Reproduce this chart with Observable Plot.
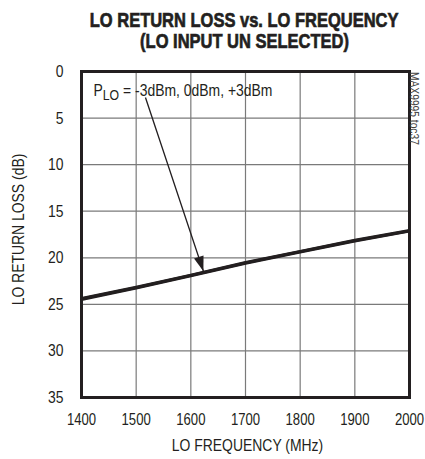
<!DOCTYPE html>
<html>
<head>
<meta charset="utf-8">
<script src="https://cdn.jsdelivr.net/npm/d3@7"></script>
<script src="https://cdn.jsdelivr.net/npm/@observablehq/plot@0.6"></script>
<style>
  body { margin: 0; background: #fff; }
  #title {
    width: 425px; height: 56px; box-sizing: border-box; padding-top: 9px;
    text-align: center; font-family: "Liberation Sans", Arial, sans-serif; white-space: nowrap;
    font-weight: bold; font-size: 21px; line-height: 21px; color: #231f20;
    -webkit-text-stroke: 0.7px #231f20;
  }
  #title span { display: inline-block; transform: translateX(31.5px) scaleX(0.785); transform-origin: 50% 50%; }
  #chart svg { display: block; }
</style>
</head>
<body>
<div id="title"><span>LO RETURN LOSS vs. LO FREQUENCY</span><br><span>(LO INPUT UN SELECTED)</span></div>
<div id="chart"></div>
<script>
// ---- data ----
const freqMHz = [1400, 1500, 1600, 1700, 1800, 1900, 2000];
const rlM3dBm = [24.5, 23.25, 21.95, 20.6, 19.4, 18.2, 17.15];
const rl0dBm  = [24.4, 23.2, 21.9, 20.55, 19.35, 18.15, 17.1];
const rlP3dBm = [24.35, 23.15, 21.85, 20.5, 19.3, 18.1, 17.05];
const seriesNames = ["-3dBm", "0dBm", "+3dBm"];
const xTicks = [1400, 1500, 1600, 1700, 1800, 1900, 2000];
const yTicks = [0, 5, 10, 15, 20, 25, 30, 35];
const xLabel = "LO FREQUENCY (MHz)";
const yLabel = "LO RETURN LOSS (dB)";
const noteText = "PLO = -3dBm, 0dBm, +3dBm";
const sourceText = "MAX9995 toc37";
const arrowX = [1517, 1623];   // MHz
const arrowY = [2.8, 21.45];   // dB

// ---- build table ----
const seriesValues = [rlM3dBm, rl0dBm, rlP3dBm];
const rows = [];
seriesNames.forEach((p, s) => freqMHz.forEach((f, i) => rows.push({p, f, rl: seriesValues[s][i]})));
const arrowRows = [{x1: arrowX[0], y1: arrowY[0], x2: arrowX[1], y2: arrowY[1]}];

const ink = "#231f20";
const headAngle = 162 * Math.PI / 180;
const arrowHead = {
  draw(ctx) {
    const pts = [[0, 0], [-5, 15], [5, 15]].map(([x, y]) => [
      x * Math.cos(headAngle) - y * Math.sin(headAngle),
      x * Math.sin(headAngle) + y * Math.cos(headAngle)
    ]);
    ctx.moveTo(pts[0][0], pts[0][1]);
    ctx.lineTo(pts[1][0], pts[1][1]);
    ctx.lineTo(pts[2][0], pts[2][1]);
    ctx.closePath();
  }
};

const plot = Plot.plot({
  width: 425,
  height: 403,
  marginLeft: 81,
  marginRight: 16,
  marginTop: 15,
  marginBottom: 62,
  style: {
    fontFamily: "'Liberation Sans', Arial, sans-serif",
    fontSize: "17px",
    color: ink,
    background: "white"
  },
  x: {domain: [1400, 2000], ticks: xTicks, tickSize: 0, tickPadding: 16, tickFormat: d3.format("d"), label: null},
  y: {domain: [0, 35], reverse: true, ticks: yTicks, tickSize: 0, tickPadding: 18, label: null},
  marks: [
    Plot.ruleX(xTicks, {stroke: "#7a7a7a", strokeWidth: 1.2}),
    Plot.ruleY(yTicks, {stroke: "#7a7a7a", strokeWidth: 1.2}),
    Plot.line(rows, {x: "f", y: "rl", z: "p", stroke: ink, strokeWidth: 2.8}),
    Plot.link(arrowRows, {x1: "x1", y1: "y1", x2: "x2", y2: "y2", stroke: ink, strokeWidth: 1.3}),
    Plot.dot(arrowRows, {x: "x2", y: "y2", symbol: arrowHead, fill: ink, stroke: "none"}),
    Plot.frame({stroke: ink, strokeWidth: 3}),
    Plot.text([noteText], {text: d => d, frameAnchor: "top-left", textAnchor: "start", lineAnchor: "top", dx: 12, dy: 12, fill: ink}),
    Plot.text([xLabel], {text: d => d, frameAnchor: "bottom", textAnchor: "middle", lineAnchor: "top", dx: 2, dy: 41.5, fill: ink}),
    Plot.text([yLabel], {text: d => d, frameAnchor: "left", textAnchor: "middle", lineAnchor: "middle", rotate: -90, dx: -63, dy: -5, fill: ink}),
    Plot.text([sourceText], {text: d => d, frameAnchor: "top-right", textAnchor: "start", lineAnchor: "middle", rotate: 90, dx: 5, dy: 0.5, fontSize: 12.5, fill: "#444"})
  ]
});

document.getElementById("chart").append(plot);

// x tick labels a touch smaller so "2000" stays inside the page
const xTickStrings = new Set(xTicks.map(String));
d3.select(plot).selectAll("text").filter(function () { return xTickStrings.has(this.textContent); })
  .attr("font-size", 16);

// annotation with subscript "LO"
d3.select(plot).selectAll("text").filter(function () { return this.textContent === noteText; })
  .each(function () {
    const t = d3.select(this);
    t.text(null);
    t.append("tspan").text("P");
    t.append("tspan").attr("font-size", 15).attr("dy", 4).text("LO");
    t.append("tspan").attr("dy", -4).text(" = -3dBm, 0dBm, +3dBm");
  });

// condensed look (narrow face not installed): horizontal scale of each label about its own anchor
d3.select(plot).selectAll("text").each(function () {
  const ax = +(this.getAttribute("x") || 0) || 0;
  const prev = this.getAttribute("transform") || "";
  this.setAttribute("transform", `${prev} translate(${ax},0) scale(0.82,1) translate(${-ax},0)`.trim());
});
</script>
</body>
</html>
